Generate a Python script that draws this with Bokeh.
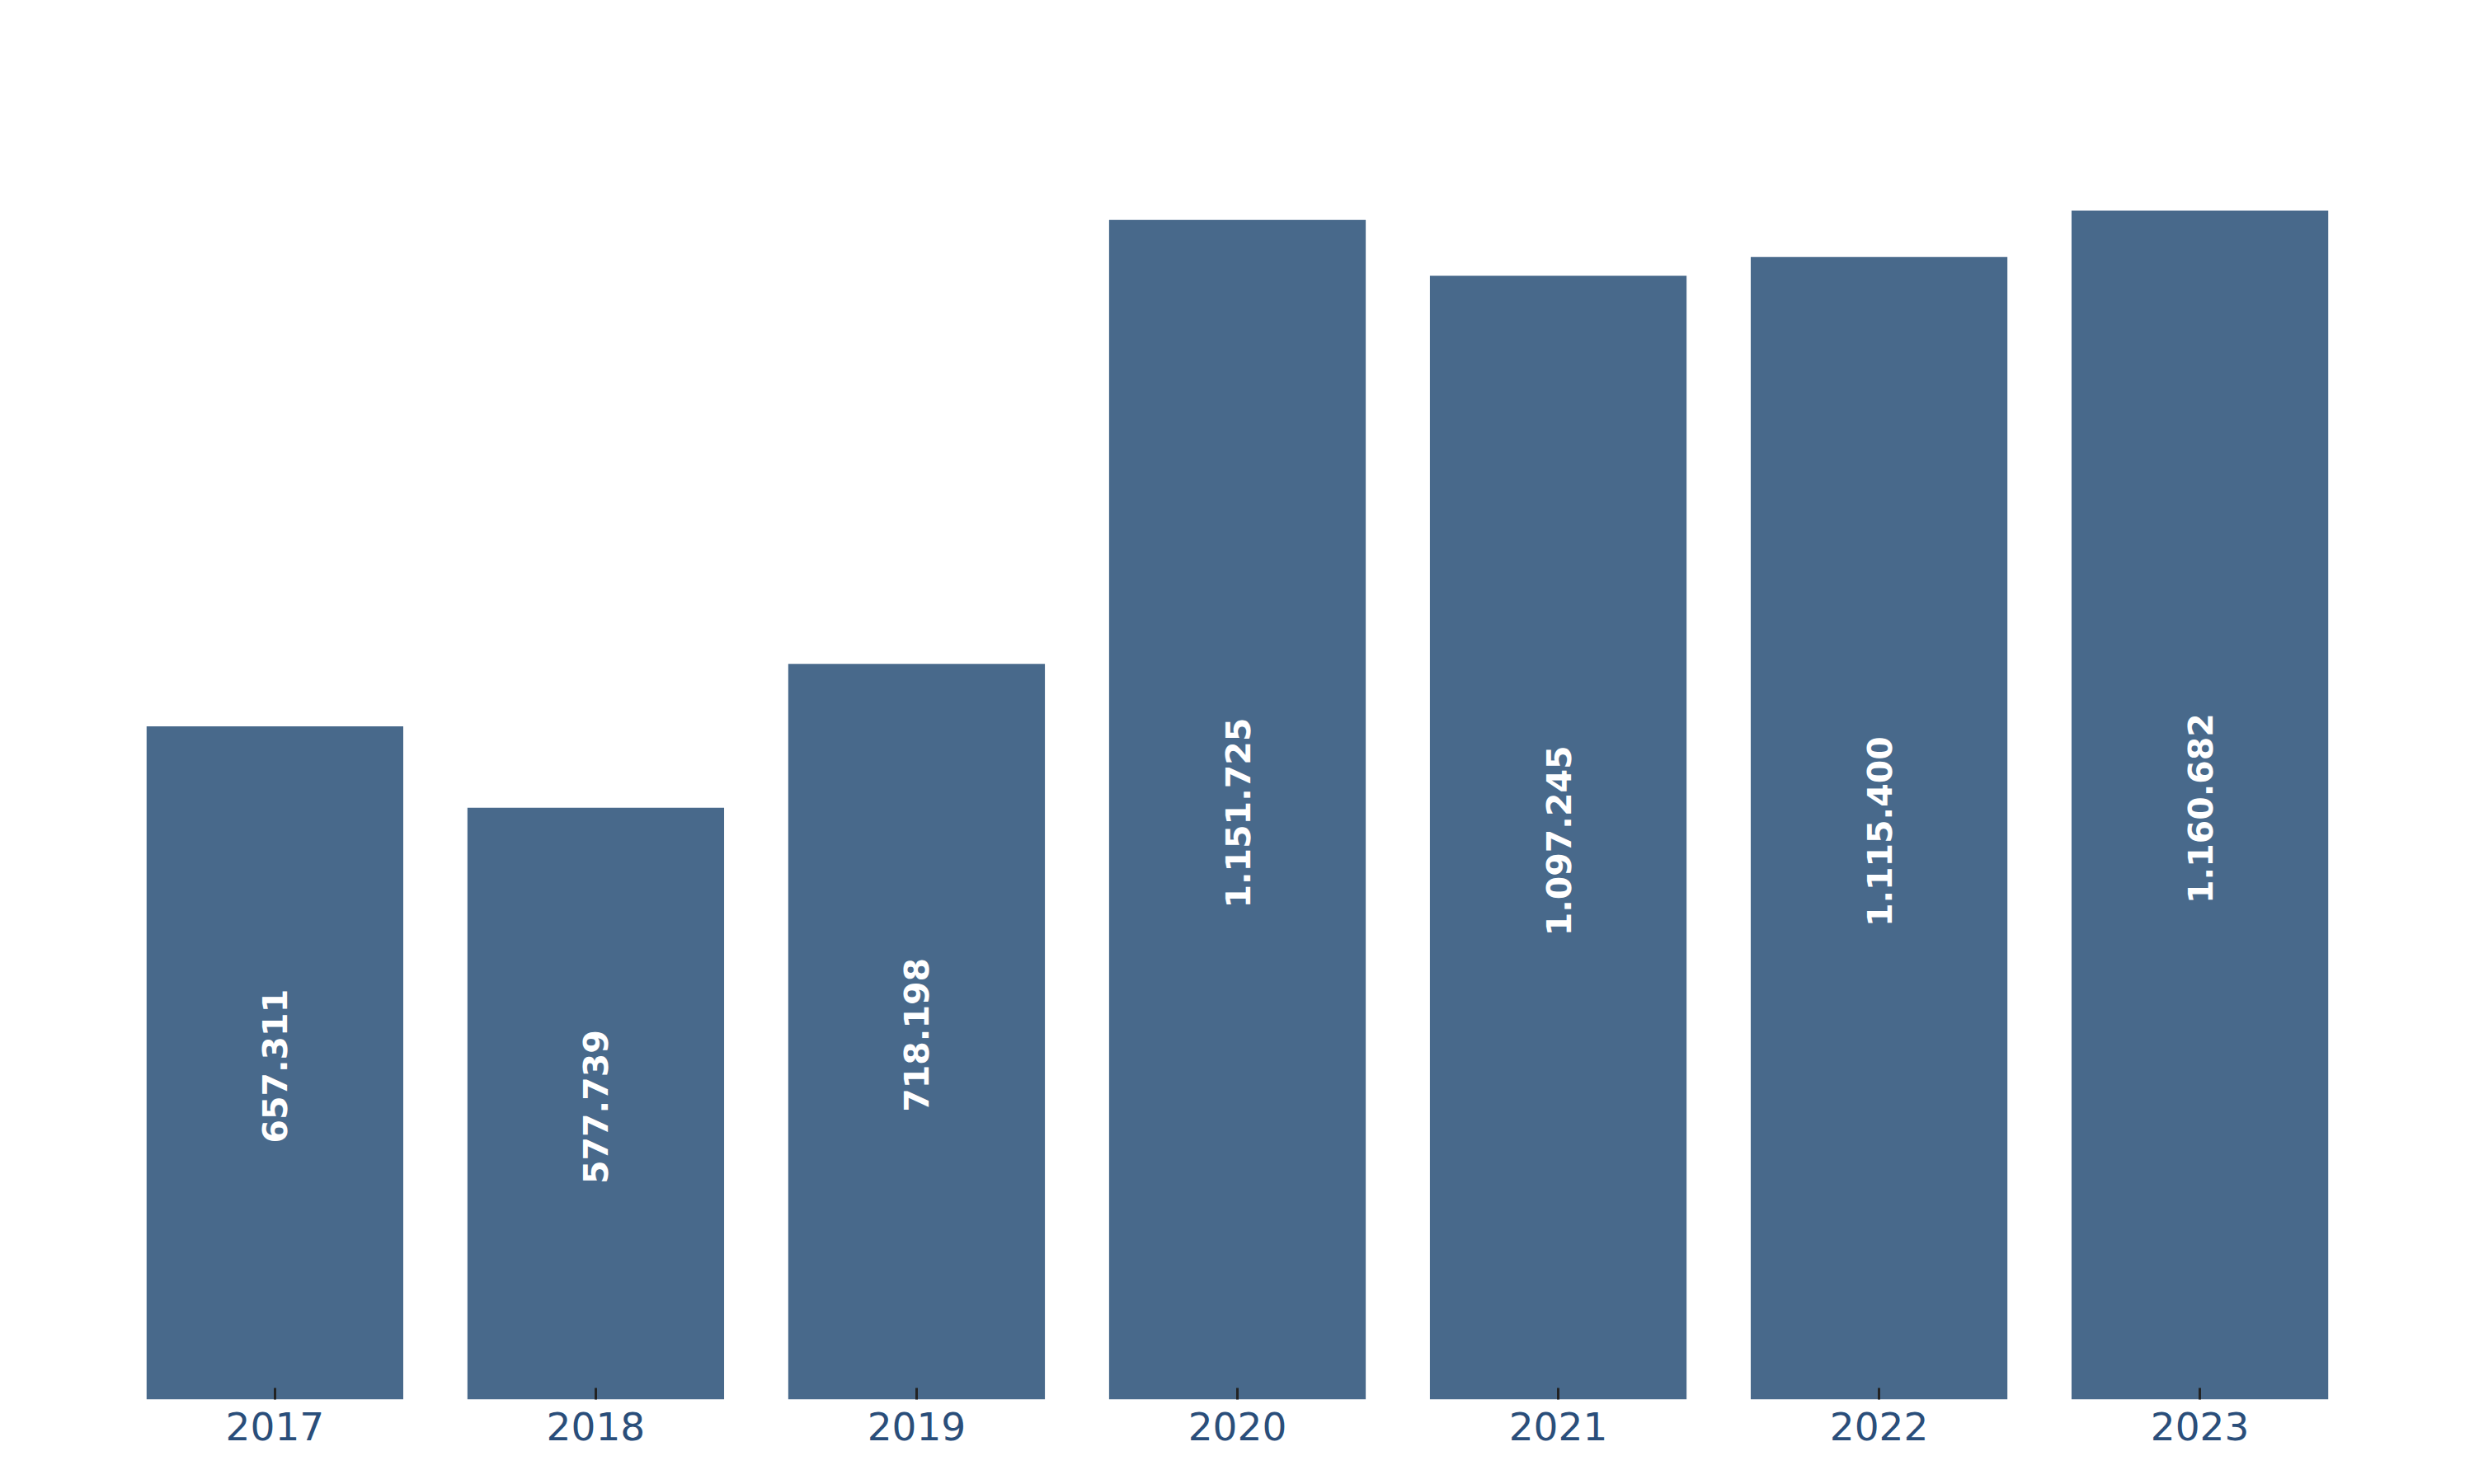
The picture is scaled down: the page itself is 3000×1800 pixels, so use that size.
from bokeh.plotting import figure
from bokeh.models import Range1d, FixedTicker, ColumnDataSource
from bokeh.core.properties import value
from bokeh.embed import file_html
from bokeh.resources import INLINE
import math

years = ["2017", "2018", "2019", "2020", "2021", "2022", "2023"]
values = [657311, 577739, 718198, 1151725, 1097245, 1115400, 1160682]
labels = ["657.311", "577.739", "718.198", "1.151.725", "1.097.245", "1.115.400", "1.160.682"]

xpos = list(range(len(years)))
src = ColumnDataSource(dict(
    x=xpos,
    top=values,
    label=labels,
    ly=[v / 2 for v in values],
))

p = figure(width=2984, height=1784, output_backend="svg", toolbar_location=None,
           x_range=Range1d(-0.74, len(years) - 1 + 0.74),
           y_range=Range1d(0, max(values) * 1.05),
           min_border_left=45, min_border_right=29, min_border_top=183, min_border_bottom=87)
p.outline_line_color = None
p.background_fill_color = "white"
p.border_fill_color = "white"
p.xgrid.visible = False
p.ygrid.visible = False
p.yaxis.visible = False

p.vbar(x="x", top="top", bottom=0, width=0.8, source=src, fill_color="#48698b", line_color=None)

p.text(x="x", y="ly", text="label", source=src, angle=math.pi / 2,
       text_align="center", text_baseline="middle", text_color="white",
       y_offset=4,
       text_font=value("DejaVu Sans"), text_font_style="bold", text_font_size="41px")

ax = p.xaxis[0]
ax.ticker = FixedTicker(ticks=xpos)
ax.major_label_overrides = {i: y for i, y in zip(xpos, years)}
ax.axis_line_color = None
ax.major_tick_in = 14
ax.major_tick_out = 0
ax.major_tick_line_color = "#222222"
ax.major_tick_line_width = 3
ax.minor_tick_line_color = None
ax.major_label_standoff = 15
ax.major_label_text_font = "DejaVu Sans"
ax.major_label_text_font_size = "47px"
ax.major_label_text_color = "#2a4e7a"

open("out.html", "w").write(file_html(p, INLINE))
